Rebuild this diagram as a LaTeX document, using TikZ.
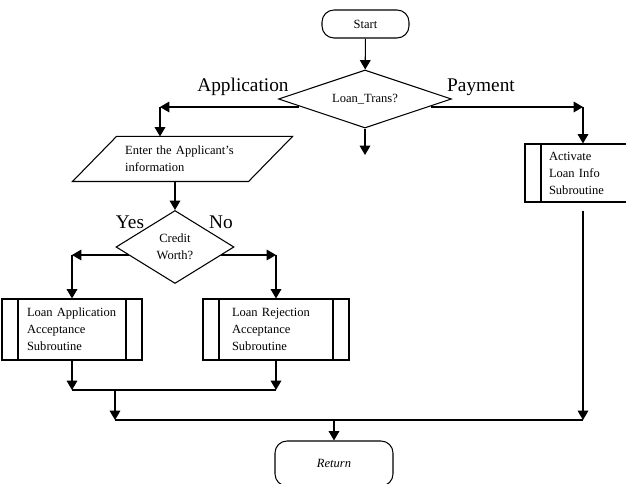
\documentclass[tikz,border=0pt]{standalone}
\usepackage{fontspec}
\setmainfont{Liberation Serif}
\usetikzlibrary{arrows.meta,shapes,positioning,calc}

\newcommand{\flowtxt}{\fontsize{9.4}{12.75}\selectfont}
\newcommand{\flowlbl}{\fontsize{14.5}{17}\selectfont}

\begin{document}
\begin{tikzpicture}[x=0.75pt, y=-0.75pt, line width=0.8pt,
                arr/.style={-{Triangle[length=7pt,width=8pt]}},
                term/.style={draw, rectangle, rounded corners=9pt, inner sep=0pt, font=\flowtxt},
                decide/.style={draw, diamond, aspect=2, inner sep=0pt, align=center, font=\flowtxt},
                inout/.style={rectangle, inner sep=0pt, align=left, font=\flowtxt},
                subr/.style={draw, rectangle, inner sep=0pt, align=left, font=\flowtxt,
                    path picture={
                        \draw ([xshift=12pt]path picture bounding box.north west) -- ([xshift=12pt]path picture bounding box.south west);
                        \draw ([xshift=-12pt]path picture bounding box.north east) -- ([xshift=-12pt]path picture bounding box.south east);
                    }},
                lbl/.style={font=\flowlbl, inner sep=0pt}
            ]
\useasboundingbox (0,0) rectangle (626,484);

% --- nodes ---
\node[term, minimum width=65.25pt, minimum height=21pt] (start) at (365.5,24) {Start};
\node[decide, minimum width=129.75pt, minimum height=43.5pt] (lt) at (365,99) {Loan\_Trans?};
\node[inout, minimum width=131.25pt, minimum height=33pt, text width=86pt] (appl) at (182.5,159)
    {Enter the Applicant's\\information};
\node[decide, minimum width=88.5pt, minimum height=54.75pt] (cw) at (175,247) {Credit\\Worth?};
\node[subr, minimum width=105pt, minimum height=45.75pt, text width=67.5pt] (lap) at (72,329.5)
    {Loan Application\\Acceptance\\Subroutine};
\node[subr, minimum width=109.5pt, minimum height=45.75pt, text width=66pt] (rej) at (276,329.5)
    {Loan Rejection\\Acceptance\\Subroutine};
\node[subr, minimum width=101.25pt, minimum height=43.5pt, text width=65.25pt] (act) at (592.5,173)
    {Activate\\Loan Info\\Subroutine};
\node[term, minimum width=88.5pt, minimum height=33.75pt, font=\flowtxt\itshape] (ret) at (334,463.5) {Return};

% parallelogram round the input node
\draw ([xshift=16.5pt]appl.north west) -- ([xshift=16.5pt]appl.north east)
      -- ([xshift=-16.5pt]appl.south east) -- ([xshift=-16.5pt]appl.south west) -- cycle;

% --- branch labels ---
\node[lbl] (lApp) at (243,87) {Application};
\node[lbl] (lPay) at (481,87) {Payment};
\node[lbl] (lYes) at (130,222) {Yes};
\node[lbl] (lNo)  at (221,222) {No};

% --- corners and joins ---
\coordinate (jA) at (160,107);   % Application turns down
\coordinate (jP) at (583,107);   % Payment turns down
\coordinate (dn) at (365,155);   % open end under Loan_Trans
\coordinate (jY) at (72,255);    % Yes turns down
\coordinate (jN) at (276,255);   % No turns down
\coordinate (m1) at (115,390);   % the two subroutines meet
\coordinate (m2) at (115,420);
\coordinate (m3) at (583,420);
\coordinate (m4) at (334,420);

% --- edges ---
\draw[arr] (start) -- (lt);
\draw[arr] (lt) -- (dn);

\draw[arr] (jA -| lt.186) -- (jA);
\draw[arr] (jA) -- (jA |- appl.north);
\draw[arr] (jP -| lt.-6) -- (jP);
\draw[arr] (jP) -- (jP |- act.north);

\draw[arr] (cw.north |- appl.south) -- (cw.north);
\draw[arr] (jY -| cw.190) -- (jY);
\draw[arr] (jY) -- (lap.north);
\draw[arr] (jN -| cw.-10) -- (jN);
\draw[arr] (jN) -- (rej.north);

\draw[arr] (lap.south) -- (lap.south |- m1);
\draw[arr] (rej.south) -- (rej.south |- m1);
\draw (lap.south |- m1) -- (rej.south |- m1);
\draw[arr] (m1) -- (m2);
\draw[arr, shorten <=6pt] (jP |- act.south) -- (m3);
\draw (m2) -- (m3);
\draw[arr] (m4) -- (ret.north);

\end{tikzpicture}
\end{document}
